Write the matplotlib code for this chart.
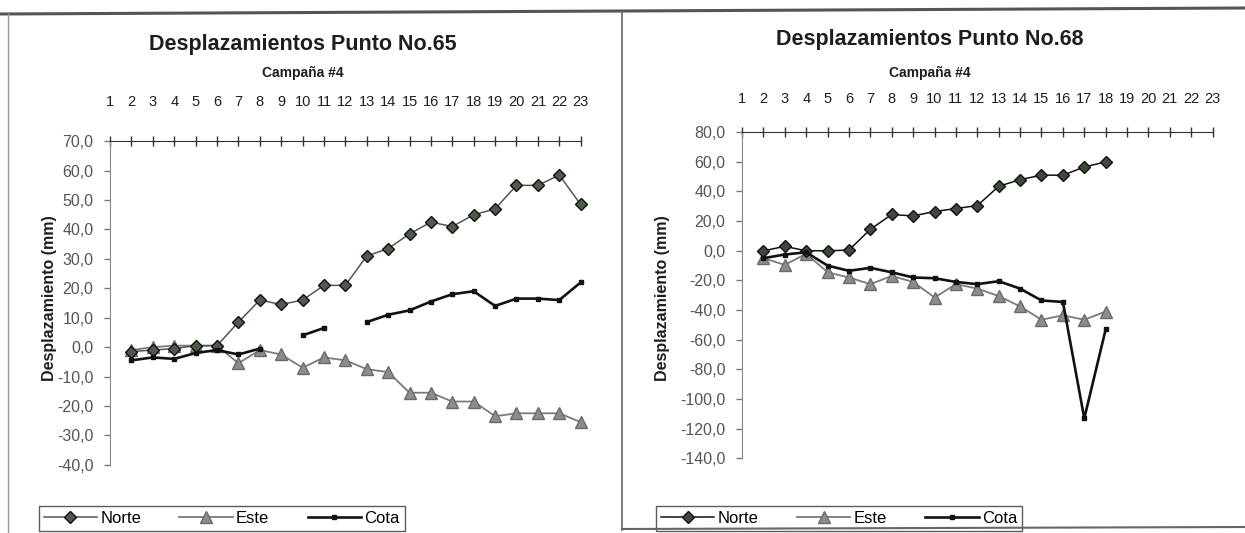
import numpy as np
import matplotlib.pyplot as plt
from matplotlib.lines import Line2D

plt.rcParams['font.family'] = ['Liberation Sans', 'DejaVu Sans']

nan = np.nan

# === Datos: campañas 1..23 ===
campanas = list(range(1, 24))

# Punto No.65
norte65 = [nan, -1.5, -1.0, -0.5, 0.5, 0.5, 8.5, 16.0, 14.5, 16.0, 21.0, 21.0,
           31.0, 33.5, 38.5, 42.5, 41.0, 45.0, 47.0, 55.0, 55.0, 58.5, 48.5]
este65 = [nan, -1.0, 0.0, 0.5, 0.5, 0.5, -5.5, -1.0, -2.5, -7.0, -3.5, -4.5,
          -7.5, -8.5, -15.5, -15.5, -18.5, -18.5, -23.5, -22.5, -22.5, -22.5, -25.5]
cota65 = [nan, -4.5, -3.5, -4.0, -2.0, -1.0, -2.5, -0.5, nan, 4.0, 6.5, nan,
          8.5, 11.0, 12.5, 15.5, 18.0, 19.0, 14.0, 16.5, 16.5, 16.0, 22.0]

# Punto No.68
norte68 = [nan, 0.0, 3.0, 0.0, 0.0, 0.5, 14.5, 24.5, 23.5, 26.5, 28.5, 30.5,
           43.5, 48.0, 51.0, 51.0, 56.5, 60.0, nan, nan, nan, nan, nan]
este68 = [nan, -5.0, -9.5, -2.0, -14.5, -18.0, -22.5, -17.0, -21.0, -31.5, -22.5, -25.5,
          -30.5, -37.5, -46.5, -43.5, -46.5, -41.0, nan, nan, nan, nan, nan]
cota68 = [nan, -5.0, -2.5, -1.0, -10.0, -13.5, -11.5, -14.5, -18.0, -18.5, -21.0, -22.5,
          -20.5, -25.5, -33.5, -34.5, -113.0, -53.0, nan, nan, nan, nan, nan]

yticks65 = np.arange(-40, 71, 10)
yticks68 = np.arange(-140, 81, 20)

H, W = 533.0, 1245.0
fig = plt.figure(figsize=(12.45, 5.33), dpi=100)
txt = '#1e1e1e'


def draw_chart(rect, titulo, norte, este, cota, yticks, dark_norte, xpad,
               cx, y_title, y_camp, x_ylab):
    ax = fig.add_axes(rect)
    x = np.array(campanas)
    if dark_norte:
        n_line, n_face = '#111111', '#3c4a3a'
    else:
        n_line, n_face = '#555555', '#4d5c49'
    ax.plot(x, norte, color=n_line, lw=1.1, marker='D', ms=6.5,
            mfc=n_face, mec='#111111', mew=1.0, label='Norte', clip_on=False, zorder=3)
    ax.plot(x, este, color='#7a7a7a', lw=1.3, marker='^', ms=8,
            mfc='#8c8c8c', mec='#6a6a6a', label='Este', clip_on=False, zorder=2)
    ax.plot(x, cota, color='#111111', lw=1.9, marker='s', ms=2.5,
            label='Cota', clip_on=False, zorder=4)

    ax.set_xlim(1, 23)
    ax.set_ylim(yticks[0], yticks[-1])
    ax.xaxis.tick_top()
    ax.set_xticks(campanas)
    ax.set_xticklabels([str(c) for c in campanas], fontsize=10.5, color=txt)
    ax.set_yticks(yticks)
    ax.set_yticklabels([f'{v:.1f}'.replace('.', ',') for v in yticks],
                       fontsize=11.5, color='#555555')
    ax.tick_params(axis='x', direction='inout', length=7, width=1, pad=xpad,
                   color='#333333')
    ax.tick_params(axis='y', direction='out', length=4, width=1, pad=8,
                   color='#777777')
    for s in ['bottom', 'right']:
        ax.spines[s].set_visible(False)
    ax.spines['top'].set_color('#333333')
    ax.spines['left'].set_color('#888888')
    ax.patch.set_alpha(0)

    fig.text(cx / W, 1 - y_title / H, titulo, fontsize=15.5, fontweight='bold',
             color=txt, ha='center', va='center')
    fig.text(cx / W, 1 - y_camp / H, 'Campaña #4', fontsize=10, fontweight='bold',
             color=txt, ha='center', va='center')
    fig.text(x_ylab / W, 1 - 298 / H, 'Desplazamiento (mm)', fontsize=11.5,
             fontweight='bold', color=txt, rotation=90, ha='center', va='center')
    return ax


ax1 = draw_chart([0.0884, 0.128, 0.378, 0.607], 'Desplazamientos Punto No.65',
                 norte65, este65, cota65, yticks65, False, 20,
                 303, 45, 73, 50)
ax2 = draw_chart([0.596, 0.140, 0.378, 0.612], 'Desplazamientos Punto No.68',
                 norte68, este68, cota68, yticks68, True, 15,
                 930, 40, 73, 663)

for ax, cx in [(ax1, 0.178), (ax2, 0.674)]:
    leg = ax.legend(loc='center', bbox_to_anchor=(cx, 0.028),
                    bbox_transform=fig.transFigure, ncol=3, fontsize=12,
                    frameon=True, fancybox=False, handlelength=3.2,
                    columnspacing=2.3, borderpad=0.3, handletextpad=0.2)
    leg.get_frame().set_edgecolor('#333333')
    leg.get_frame().set_linewidth(1.0)

# marcos del documento escaneado
fig.add_artist(Line2D([0, 1], [1 - 14 / H, 1 - 8 / H], color='#555555', lw=2.2))
fig.add_artist(Line2D([8 / W, 8 / W], [1 - 14 / H, 0], color='#999999', lw=1.0))
fig.add_artist(Line2D([622 / W, 622 / W], [1 - 12 / H, 1 - 530 / H],
                      color='#666666', lw=1.2))
fig.add_artist(Line2D([622 / W, 1], [1 - 529 / H, 1 - 527 / H],
                      color='#666666', lw=1.5))

fig.savefig('out.png', dpi=100)
